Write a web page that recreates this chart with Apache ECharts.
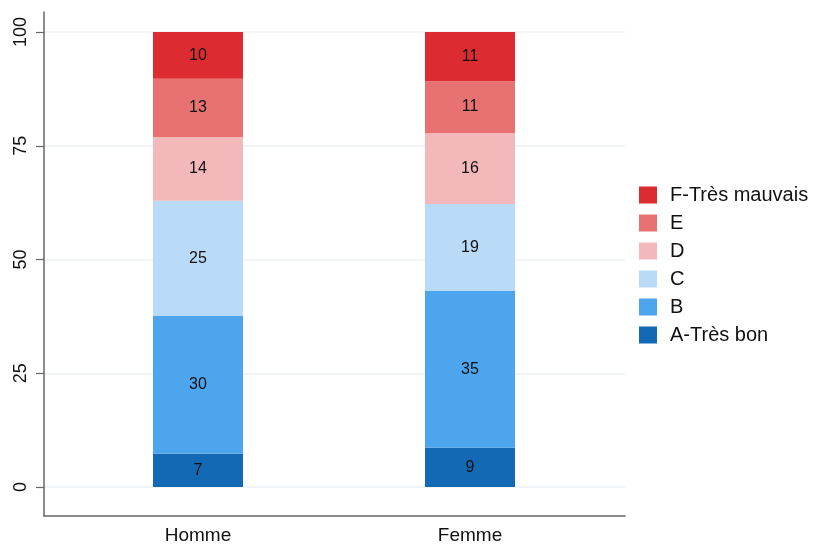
<!DOCTYPE html>
<html><head><meta charset="utf-8">
<script src="https://cdn.jsdelivr.net/npm/echarts@6/dist/echarts.min.js"></script>
<style>html,body{margin:0;padding:0;background:#fff}#c{width:819px;height:546px}</style>
</head><body><div id="c"></div>
<script>
const categories = ['Homme', 'Femme'];
const seriesNames = ['A-Très bon', 'B', 'C', 'D', 'E', 'F-Très mauvais'];
const valA = [7.3, 8.6];
const valB = [30.3, 34.5];
const valC = [25.3, 19.1];
const valD = [14.0, 15.6];
const valE = [12.8, 11.4];
const valF = [10.3, 10.8];
const yTicks = [0, 25, 50, 75, 100];
const colors = ['#1469b5', '#4da5ee', '#badbf8', '#f3b9ba', '#e87272', '#dc2b31'];

const allVals = [valA, valB, valC, valD, valE, valF];
const chart = echarts.init(document.getElementById('c'));
const font = 'Liberation Sans, Arial, sans-serif';
const series = seriesNames.map((n, i) => ({
  name: n, type: 'bar', stack: 'total', xAxisIndex: 0, yAxisIndex: 0,
  barWidth: 90, data: allVals[i],
  itemStyle: { color: colors[i] },
  label: { show: true, position: 'inside', color: '#111', fontSize: 16, fontFamily: font,
    formatter: p => Math.round(p.value) }
}));
chart.setOption({
  animation: false,
  color: colors,
  grid: [
    { left: 62, top: 32, width: 544, height: 455 },
    { left: 44, top: 12, width: 581, height: 504 },
    { left: 44, top: 32, width: 581, height: 455 }
  ],
  xAxis: [
    { gridIndex: 0, type: 'category', data: categories, axisLine: { show: false }, axisTick: { show: false },
      axisLabel: { margin: 39, fontSize: 19, color: '#111', fontFamily: font } },
    { gridIndex: 1, type: 'value', min: 0, max: 1, axisLine: { show: true, lineStyle: { color: '#666', width: 1.5 } },
      axisTick: { show: false }, axisLabel: { show: false }, splitLine: { show: false } },
    { gridIndex: 2, type: 'value', min: 0, max: 1, show: false }
  ],
  yAxis: [
    { gridIndex: 0, type: 'value', min: 0, max: 100, show: false },
    { gridIndex: 1, type: 'value', min: 0, max: 1, axisLine: { show: true, lineStyle: { color: '#666', width: 1.5 } },
      axisTick: { show: false }, axisLabel: { show: false }, splitLine: { show: false } },
    { gridIndex: 2, type: 'value', min: yTicks[0], max: yTicks[yTicks.length - 1], interval: 25,
      axisLine: { show: false },
      axisTick: { show: true, length: 8, lineStyle: { color: '#666', width: 1.2 } },
      axisLabel: { rotate: 90, fontSize: 18, color: '#111', fontFamily: font, margin: 14,
        formatter: v => yTicks.includes(v) ? String(v) : '' },
      splitLine: { show: true, lineStyle: { color: '#edf2f5', width: 1.5 } } }
  ],
  legend: {
    left: 634, top: 180, orient: 'vertical', icon: 'rect', itemWidth: 18, itemHeight: 17, itemGap: 8,
    data: seriesNames.slice().reverse(),
    textStyle: { fontSize: 20, lineHeight: 17, color: '#111', fontFamily: font, padding: [0, 0, 0, 8] }
  },
  series: series
});
</script></body></html>
